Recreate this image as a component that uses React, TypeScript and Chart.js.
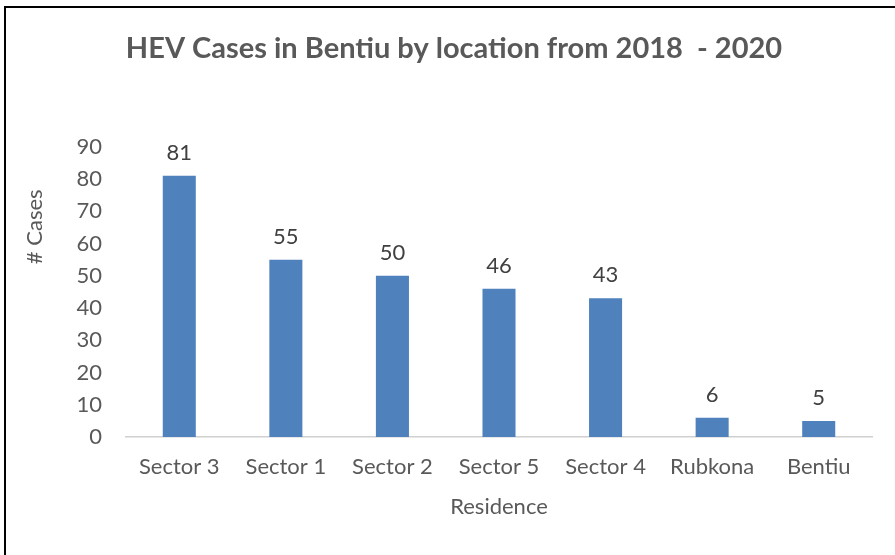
import React, { useEffect, useRef } from "react";
import { Chart, registerables } from "chart.js";

Chart.register(...registerables);

const categories = ["Sector 3", "Sector 1", "Sector 2", "Sector 5", "Sector 4", "Rubkona", "Bentiu"];
const cases = [81, 55, 50, 46, 43, 6, 5];
const yMin = 0;
const yMax = 90;
const yStep = 10;

const titleText = "HEV Cases in Bentiu by location from 2018  - 2020";
const xTitle = "Residence";
const yTitle = "# Cases";

const FONT = "Lato, 'Open Sans', sans-serif";
const FS = 22;

const dataLabelPlugin = {
  id: "dataLabels",
  afterDatasetsDraw(chart: any) {
    const ctx = chart.ctx;
    const meta = chart.getDatasetMeta(0);
    ctx.save();
    ctx.font = `${FS}px ${FONT}`;
    ctx.fillStyle = "#404040";
    ctx.textAlign = "center";
    ctx.textBaseline = "middle";
    meta.data.forEach((bar: any, i: number) => {
      ctx.fillText(String(chart.data.datasets[0].data[i]), bar.x, bar.y - 23);
    });
    ctx.restore();
  },
};

const yTitlePlugin = {
  id: "yTitleCustom",
  afterDraw(chart: any) {
    const ctx = chart.ctx;
    ctx.save();
    ctx.font = `${FS}px ${FONT}`;
    ctx.fillStyle = "#595959";
    ctx.textAlign = "center";
    ctx.textBaseline = "middle";
    ctx.translate(35, chart.chartArea.top + 80);
    ctx.rotate(-Math.PI / 2);
    ctx.fillText(yTitle, 0, 0);
    ctx.restore();
  },
};

export default function App() {
  const ref = useRef<HTMLCanvasElement>(null);
  useEffect(() => {
    if (!ref.current) return;
    const chart = new Chart(ref.current, {
      type: "bar",
      data: {
        labels: categories,
        datasets: [
          {
            data: cases,
            backgroundColor: "#4F81BD",
            borderWidth: 0,
            barPercentage: 0.31,
            categoryPercentage: 1,
          },
        ],
      },
      options: {
        responsive: false,
        animation: false,
        layout: { padding: { left: 36, right: 23, top: 0, bottom: 0 } },
        plugins: {
          legend: { display: false },
          tooltip: { enabled: false },
          title: {
            display: true,
            text: titleText,
            color: "#595959",
            font: { family: FONT, size: 29, weight: "bold" },
            padding: { top: 31, bottom: 81 },
          },
        },
        scales: {
          x: {
            grid: { display: false, drawTicks: false },
            border: { display: true, color: "#d0d0d0", width: 1.5 },
            ticks: {
              color: "#595959",
              font: { family: FONT, size: FS },
              padding: 17,
              maxRotation: 0,
            },
            title: {
              display: true,
              text: xTitle,
              color: "#595959",
              font: { family: FONT, size: FS },
              padding: { top: 0, bottom: 35 },
            },
            afterFit(scale: any) {
              scale.height = 118;
            },
          },
          y: {
            min: yMin,
            max: yMax,
            grid: { display: false, drawTicks: false },
            border: { display: false },
            ticks: {
              stepSize: yStep,
              color: "#595959",
              font: { family: FONT, size: FS },
              padding: 24,
            },
            afterFit(scale: any) {
              scale.width = 90;
            },
          },
        },
      },
      plugins: [dataLabelPlugin, yTitlePlugin],
    });
    return () => chart.destroy();
  }, []);

  return (
    <div style={{ position: "fixed", left: 0, top: 0, width: 895, height: 555, background: "#fff", overflow: "hidden" }}>
      <canvas ref={ref} width={895} height={555} style={{ position: "absolute", left: 0, top: 0 }} />
      <div style={{ position: "absolute", left: 4, top: 6, right: 0, bottom: 0, borderTop: "2px solid #000", borderLeft: "2px solid #000" }} />
    </div>
  );
}
